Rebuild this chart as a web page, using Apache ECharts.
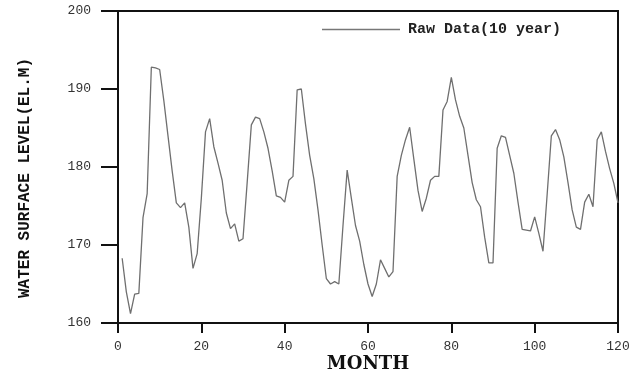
<!DOCTYPE html>
<html>
<head>
<meta charset="utf-8">
<script src="https://cdn.jsdelivr.net/npm/echarts@6/dist/echarts.min.js"></script>
<style>
html,body{margin:0;padding:0;background:#fff;}
#chart{width:643px;height:374px;}
</style>
</head>
<body>
<div id="chart"></div>
<script>
// Months 1..120
const months = [];
for (let i = 1; i <= 120; i++) months.push(i);

// Water surface level (EL.M)
const levels = [
  168.3, 164.0, 161.2, 163.7, 163.8, 173.5, 176.6, 192.8, 192.7, 192.5,
  188.5, 184.0, 179.5, 175.4, 174.8, 175.4, 172.3, 167.0, 168.9, 176.0,
  184.5, 186.2, 182.6, 180.5, 178.3, 174.1, 172.1, 172.7, 170.5, 170.8,
  178.0, 185.4, 186.4, 186.2, 184.5, 182.4, 179.5, 176.3, 176.1, 175.5,
  178.3, 178.8, 189.9, 190.0, 185.5, 181.5, 178.5, 174.5, 170.0, 165.7,
  165.0, 165.3, 165.0, 172.5, 179.6, 176.0, 172.5, 170.5, 167.5, 165.0,
  163.4, 165.0, 168.1, 167.0, 165.9, 166.6, 178.8, 181.5, 183.5, 185.1,
  181.0, 177.0, 174.3, 176.0, 178.3, 178.8, 178.8, 187.3, 188.4, 191.5,
  188.6, 186.5, 185.0, 181.5, 178.0, 175.8, 174.9, 171.0, 167.7, 167.7,
  182.4, 184.0, 183.8, 181.5, 179.2, 175.5, 172.0, 171.9, 171.8, 173.6,
  171.5, 169.2, 176.5, 184.0, 184.8, 183.5, 181.3, 178.0, 174.5, 172.3,
  172.0, 175.5, 176.5, 174.9, 183.5, 184.5, 182.0, 179.8, 177.9, 175.4
];

const seriesName = 'Raw Data(10 year)';
const xTitle = 'MONTH';
const yTitle = 'WATER SURFACE LEVEL(EL.M)';

const chart = echarts.init(document.getElementById('chart'));
const tickFont = { fontFamily: 'Liberation Mono', fontSize: 13, color: '#333' };

chart.setOption({
  animation: false,
  backgroundColor: '#fff',
  grid: {
    left: 118, top: 11, right: 25, bottom: 51,
    containLabel: false,
    outerBoundsMode: 'none',
    show: true, borderColor: '#111', borderWidth: 2, backgroundColor: 'transparent'
  },
  legend: {
    left: 317, top: 17,
    itemWidth: 78, itemHeight: 1.4,
    icon: 'rect',
    data: [{ name: seriesName, icon: 'rect', itemStyle: { color: '#777' } }],
    textStyle: { fontFamily: 'Liberation Mono', fontWeight: 'bold', fontSize: 15, color: '#222', padding: [0, 0, 0, 3] }
  },
  xAxis: {
    type: 'value', min: 0, max: 120, interval: 20,
    name: xTitle, nameLocation: 'middle', nameGap: 32, nameMoveOverlap: false,
    nameTextStyle: { fontFamily: 'DejaVu Serif', fontWeight: 'bold', fontSize: 18, color: '#111', verticalAlign: 'top' },
    axisLine: { show: true, lineStyle: { color: '#111', width: 2 } },
    axisTick: { show: true, inside: false, length: 10, lineStyle: { color: '#111', width: 2 } },
    axisLabel: Object.assign({ margin: 17 }, tickFont),
    splitLine: { show: false }
  },
  yAxis: {
    type: 'value', min: 160, max: 200, interval: 10,
    name: yTitle, nameLocation: 'middle', nameGap: 85, nameRotate: 90, nameMoveOverlap: false,
    nameTextStyle: { fontFamily: 'Liberation Mono', fontWeight: 'bold', fontSize: 16, color: '#111', padding: [0, 22, 0, 0] },
    axisLine: { show: true, lineStyle: { color: '#111', width: 2 } },
    axisTick: { show: true, inside: false, length: 17, lineStyle: { color: '#111', width: 2 } },
    axisLabel: Object.assign({ margin: 27 }, tickFont),
    splitLine: { show: false }
  },
  series: [{
    name: seriesName,
    type: 'line',
    data: months.map((m, i) => [m, levels[i]]),
    showSymbol: false,
    symbol: 'none',
    lineStyle: { color: '#6f6f6f', width: 1.3 },
    itemStyle: { color: '#777' }
  }]
});
</script>
</body>
</html>
